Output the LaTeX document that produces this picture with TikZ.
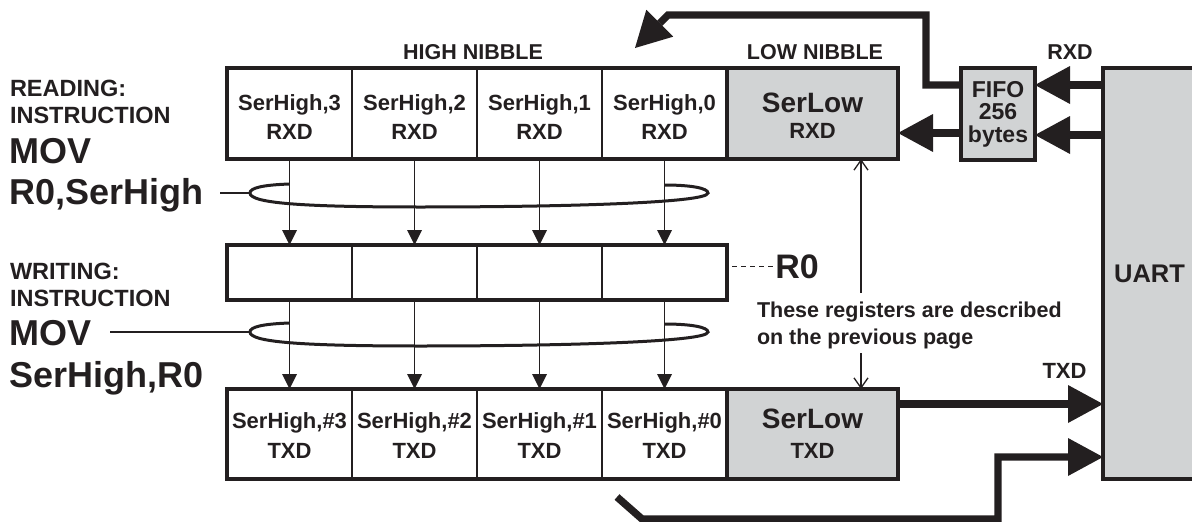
\documentclass[tikz,border=0pt]{standalone}
\usepackage{fontspec}
\setmainfont{Liberation Sans}
\usetikzlibrary{arrows.meta}
\definecolor{ink}{HTML}{231F20}
\definecolor{regfill}{HTML}{D1D3D4}
\newcommand{\fsz}[2]{\fontsize{#1}{#2}\selectfont\bfseries}
\begin{document}
\begin{tikzpicture}[x=1pt,y=-1pt,
  every node/.style={inner sep=0pt,outer sep=0pt,text=ink},
  hcell/.style={draw=ink,line width=1.5pt,minimum width=125pt,align=center},
  toprow/.style={hcell,minimum height=91pt,font=\fsz{22}{29.5}},
  midrow/.style={hcell,minimum height=55pt},
  botrow/.style={hcell,minimum height=90pt,font=\fsz{22}{30}},
  lowcell/.style={draw=ink,fill=regfill,line width=3.5pt,minimum width=171pt,align=center},
  outerbox/.style={draw=ink,line width=3.5pt},
  lbl/.style={font=\fsz{21.5}{27}},
  side/.style={anchor=base west,font=\fsz{23.5}{28}},
  big/.style={anchor=base west,font=\fsz{36}{40}},
  bigarrow/.style={draw=ink,line width=7.4pt,-{Triangle[length=35pt,width=38pt,line width=0pt]}},
  thinarrow/.style={draw=ink,line width=1.6pt,-{Triangle[length=15pt,width=15pt,line width=0pt]}},
  openarrow/.style={draw=ink,line width=1.3pt,-{Straight Barb[length=10pt,width=14pt]}},
  lasso/.style={draw=ink,line width=3pt},
  leader/.style={draw=ink,line width=1.3pt},
]
\useasboundingbox (0,0) rectangle (1192,522);

% ---- left texts
\node[side] (rd) at (10,96.5) {READING:};
\node[side] (ri) at (10,123) {INSTRUCTION};
\node[big] (rm) at (9.5,163) {MOV};
\node[big] (rs) at (9.5,204) {R0,SerHigh};
\node[side] (wr) at (10,279) {WRITING:};
\node[side] (wi) at (10,306) {INSTRUCTION};
\node[big] (movw) at (9.5,345) {MOV};
\node[big] (ws) at (9.5,387) {SerHigh,R0};

% ---- headings
\node[lbl,anchor=base] (hn) at (473,59) {HIGH NIBBLE};
\node[lbl,anchor=base] (ln) at (815,59) {LOW NIBBLE};
\node[lbl,anchor=base] (rxl) at (1070,59.5) {RXD};
\node[lbl,anchor=base,font=\fsz{22}{27}] (txl) at (1064.5,378) {TXD};

% ---- top register (RXD)
\node[toprow] (t3) at (289.5,113.5) {\rule{0pt}{22.5pt}SerHigh,3\\RXD};
\node[toprow] (t2) at (414.5,113.5) {\rule{0pt}{22.5pt}SerHigh,2\\RXD};
\node[toprow] (t1) at (539.5,113.5) {\rule{0pt}{22.5pt}SerHigh,1\\RXD};
\node[toprow] (t0) at (664.5,113.5) {\rule{0pt}{22.5pt}SerHigh,0\\RXD};
\node[lowcell,minimum height=91pt,font=\fsz{22}{26}] (tlow) at (812.5,113.5)
  {{\fontsize{28}{28}\selectfont\rule{0pt}{24.5pt}SerLow}\\RXD};
\draw[outerbox] (t3.north west) rectangle (t0.south east);

% ---- middle register (R0)
\node[midrow] (m3) at (289.5,272.5) {};
\node[midrow] (m2) at (414.5,272.5) {};
\node[midrow] (m1) at (539.5,272.5) {};
\node[midrow] (m0) at (664.5,272.5) {};
\draw[outerbox] (m3.north west) rectangle (m0.south east);
\node[anchor=base,font=\fsz{34}{34}] (r0) at (797,278) {R0};

% ---- bottom register (TXD)
\node[botrow] (b3) at (289.5,434) {\rule{0pt}{18pt}SerHigh,\#3\\TXD};
\node[botrow] (b2) at (414.5,434) {\rule{0pt}{18pt}SerHigh,\#2\\TXD};
\node[botrow] (b1) at (539.5,434) {\rule{0pt}{18pt}SerHigh,\#1\\TXD};
\node[botrow] (b0) at (664.5,434) {\rule{0pt}{18pt}SerHigh,\#0\\TXD};
\node[lowcell,minimum height=90pt,font=\fsz{22}{30}] (blow) at (812.5,434)
  {{\fontsize{28}{28}\selectfont SerLow}\\TXD};
\draw[outerbox] (b3.north west) rectangle (b0.south east);

% ---- FIFO and UART
\node[draw=ink,fill=regfill,line width=3.5pt,minimum width=74pt,minimum height=92pt,
  align=center,font=\fsz{23}{22.5}] (fifo) at (998,114) {FIFO\\256\\bytes};
\node[draw=ink,fill=regfill,line width=3.5pt,minimum width=93pt,minimum height=411pt,
  font=\fsz{25.5}{26}] (uart) at (1149.5,273.5) {UART};

% ---- note
\node[lbl,anchor=north west,align=left] (note) at (757,301.5)
  {These registers are described\\on the previous page};
\coordinate (na) at (861,293);
\coordinate (nb) at (861,353);
\draw[openarrow] (na) -- (tlow.south -| na);
\draw[openarrow] (nb) -- (blow.north -| nb);

% ---- lassos
\coordinate (lassoR) at (250,193);
\coordinate (lassoW) at (250,332);
\draw[lasso] (289.5,184) .. controls (262,185) and (250,188) .. (250,193)
  .. controls (250,203) and (300,207) .. (420,207)
  .. controls (560,207) and (708,203) .. (708,193)
  .. controls (708,188) and (690,185) .. (664.5,185);
\begin{scope}[shift={(0,139)}]
\draw[lasso] (289.5,184) .. controls (262,185) and (250,188) .. (250,193)
  .. controls (250,203) and (300,207) .. (420,207)
  .. controls (560,207) and (708,203) .. (708,193)
  .. controls (708,188) and (690,185) .. (664.5,185);
\end{scope}
\draw[leader] ([xshift=16.5pt]rs.east |- lassoR) -- (lassoR);
\draw[leader] ([xshift=18.5pt]movw.east |- lassoW) -- (lassoW);

% ---- thin transfer arrows
\foreach \i in {3,2,1,0}{
  \draw[thinarrow] (t\i.south) -- (m\i.north);
  \draw[thinarrow] (m\i.south) -- (b\i.north);
}
\draw[leader,dash pattern=on 5pt off 4pt,shorten <=5pt,shorten >=2pt] (m0.east |- r0.west) -- (r0.west);

% ---- thick data paths
\coordinate (rxtip) at (635,48);
\coordinate (txs) at (617,497);
\draw[bigarrow] (uart.west |- 0,85) -- (fifo.east |- 0,85);
\draw[bigarrow] (uart.west |- 0,135) -- (fifo.east |- 0,135);
\draw[bigarrow] (fifo.west |- 0,133) -- (tlow.east |- 0,133);
\draw[bigarrow] (fifo.west |- 0,85) -- (926,85) -- (926,15) -- (668,15) -- (rxtip);
\draw[bigarrow] (blow.east |- 0,404) -- (uart.west |- 0,404);
\draw[bigarrow] (txs) -- (642,519) -- (998,519) -- (998,457) -- (uart.west |- 0,457);
\end{tikzpicture}
\end{document}
